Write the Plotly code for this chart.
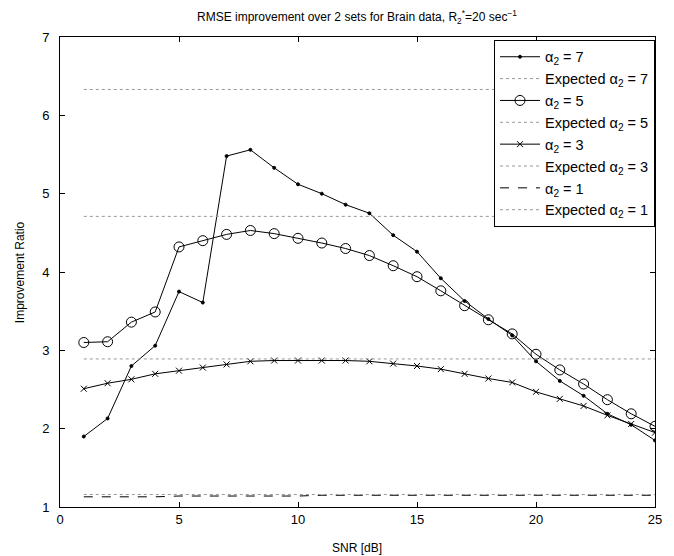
import plotly.graph_objects as go

snr = list(range(1, 26))

alpha7 = [1.90, 2.13, 2.80, 3.06, 3.75, 3.61, 5.48, 5.56, 5.33, 5.12, 5.00, 4.86, 4.75,
          4.47, 4.26, 3.92, 3.63, 3.40, 3.19, 2.86, 2.61, 2.42, 2.19, 2.05, 1.85]
alpha5 = [3.10, 3.11, 3.36, 3.49, 4.32, 4.40, 4.48, 4.53, 4.49, 4.43, 4.37, 4.30, 4.21,
          4.08, 3.94, 3.76, 3.57, 3.39, 3.21, 2.95, 2.75, 2.57, 2.37, 2.19, 2.03]
alpha3 = [2.51, 2.58, 2.63, 2.70, 2.74, 2.78, 2.82, 2.86, 2.87, 2.87, 2.87, 2.87, 2.86,
          2.83, 2.80, 2.76, 2.70, 2.64, 2.59, 2.47, 2.38, 2.29, 2.17, 2.06, 1.95]
alpha1 = [1.13, 1.13, 1.13, 1.13, 1.14, 1.14, 1.14, 1.14, 1.14, 1.14, 1.15, 1.15, 1.15,
          1.15, 1.15, 1.15, 1.15, 1.15, 1.15, 1.15, 1.15, 1.15, 1.15, 1.15, 1.15]

expected = {"7": 6.33, "5": 4.71, "3": 2.89, "1": 1.16}

x_ticks = [0, 5, 10, 15, 20, 25]
y_ticks = [1, 2, 3, 4, 5, 6, 7]

FONT = "Liberation Sans, Arial, Helvetica, sans-serif"

fig = go.Figure()

def measured(name, y, symbol=None, size=6, dash="solid"):
    mode = "lines+markers" if symbol else "lines"
    tr = go.Scatter(x=snr, y=y, mode=mode, name=name,
                    line=dict(color="black", width=1, dash=dash))
    if symbol:
        tr.marker = dict(symbol=symbol, size=size, color="black",
                         line=dict(color="black", width=1))
    fig.add_trace(tr)

def exp_line(key):
    fig.add_trace(go.Scatter(x=snr, y=[expected[key]] * len(snr), mode="lines",
                             name="Expected α<sub>2</sub> = " + key,
                             line=dict(color="#999999", width=1, dash="dot")))

measured("α<sub>2</sub> = 7", alpha7, symbol="circle", size=3)
exp_line("7")
measured("α<sub>2</sub> = 5", alpha5, symbol="circle-open", size=10)
exp_line("5")
measured("α<sub>2</sub> = 3", alpha3, symbol="x-thin-open", size=6)
exp_line("3")
measured("α<sub>2</sub> = 1", alpha1, dash="dash")
exp_line("1")

axis_common = dict(showgrid=False, zeroline=False, showline=True, linecolor="black",
                   linewidth=1, mirror="ticks", ticks="inside", ticklen=5,
                   tickcolor="black", automargin=False,
                   tickfont=dict(size=13, color="black", family=FONT))

fig.update_xaxes(range=[0, 25], tickvals=x_ticks, **axis_common)
fig.update_yaxes(range=[1, 7], tickvals=y_ticks, ticklabelstandoff=7, **axis_common)

lab = dict(size=12, color="black", family=FONT)
fig.add_annotation(text="SNR [dB]", xref="paper", yref="paper", x=0.499, y=-0.087,
                   xanchor="center", yanchor="middle", showarrow=False, font=lab)
fig.add_annotation(text="Improvement Ratio", xref="paper", yref="paper", x=-0.067, y=0.5,
                   xanchor="center", yanchor="middle", textangle=-90, showarrow=False, font=lab)
fig.add_annotation(text="RMSE improvement over 2 sets for Brain data, R<sub>2</sub><sup>*</sup>=20 sec<sup>−1</sup>",
                   xref="paper", yref="paper", x=0.499, y=1.042,
                   xanchor="center", yanchor="middle", showarrow=False, font=lab)

fig.update_layout(
    width=666, height=548,
    margin=dict(l=52, r=19, t=29, b=49),
    paper_bgcolor="white", plot_bgcolor="white",
    font=dict(family=FONT, color="black"),
    showlegend=True,
    legend=dict(x=1, y=0.994, xanchor="right", yanchor="top",
                bgcolor="white", bordercolor="black", borderwidth=1,
                font=dict(size=14.5, color="black", family=FONT),
                tracegroupgap=0, itemwidth=40),
)

fig.write_html("out.html")
